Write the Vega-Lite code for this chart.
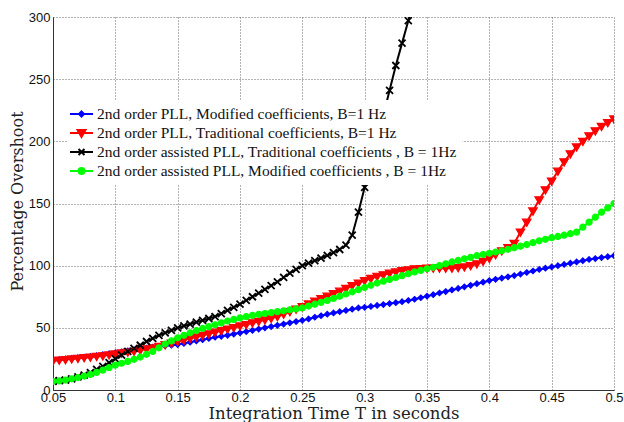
{
  "$schema": "https://vega.github.io/schema/vega-lite/v6.json",
  "width": 561,
  "height": 373,
  "autosize": "none",
  "padding": {"left": 53, "top": 17, "right": 10, "bottom": 32},
  "background": "white",
  "config": {
    "view": {"stroke": null},
    "axis": {
      "domainColor": "#333",
      "domainWidth": 1,
      "ticks": false,
      "labelFont": "Liberation Sans",
      "labelFontSize": 13,
      "labelColor": "#111",
      "labelFlush": false,
      "labelOverlap": false,
      "grid": true,
      "gridColor": "#666",
      "gridDash": [1, 2],
      "gridWidth": 1,
      "titleFont": "DejaVu Serif",
      "titleFontSize": 16,
      "titleFontWeight": "normal",
      "titleColor": "#222"
    }
  },
  "data": {
    "values": [
      {"x": 0.05, "a": 24, "b": 23.5, "c": 7, "d": 7},
      {"x": 0.055, "a": 24.5, "b": 24, "c": 7.5, "d": 7.3},
      {"x": 0.06, "a": 25, "b": 24.5, "c": 8, "d": 8},
      {"x": 0.065, "a": 25.5, "b": 25, "c": 9, "d": 9},
      {"x": 0.07, "a": 26, "b": 25.5, "c": 10.5, "d": 10},
      {"x": 0.075, "a": 26.5, "b": 26, "c": 12, "d": 11.2},
      {"x": 0.08, "a": 27, "b": 26.5, "c": 14, "d": 12.5},
      {"x": 0.085, "a": 27.7, "b": 27, "c": 16.5, "d": 14.2},
      {"x": 0.09, "a": 28.5, "b": 27.5, "c": 19, "d": 16},
      {"x": 0.095, "a": 29.2, "b": 28.2, "c": 22, "d": 18},
      {"x": 0.1, "a": 30, "b": 29, "c": 25, "d": 20},
      {"x": 0.105, "a": 30.7, "b": 29.8, "c": 28, "d": 21.5},
      {"x": 0.11, "a": 31.5, "b": 30.5, "c": 31, "d": 23},
      {"x": 0.115, "a": 32.2, "b": 31.2, "c": 33.5, "d": 24.7},
      {"x": 0.12, "a": 33, "b": 32, "c": 36, "d": 26.5},
      {"x": 0.125, "a": 33.7, "b": 33, "c": 39, "d": 28.7},
      {"x": 0.13, "a": 34.5, "b": 34, "c": 41.5, "d": 31},
      {"x": 0.135, "a": 35, "b": 35.2, "c": 44, "d": 34},
      {"x": 0.14, "a": 35.5, "b": 36.5, "c": 46, "d": 37},
      {"x": 0.145, "a": 36, "b": 37.7, "c": 48, "d": 39.5},
      {"x": 0.15, "a": 36.5, "b": 39, "c": 50, "d": 42},
      {"x": 0.155, "a": 37.5, "b": 40.2, "c": 51.5, "d": 44},
      {"x": 0.16, "a": 38.5, "b": 41.5, "c": 53, "d": 46},
      {"x": 0.165, "a": 39.5, "b": 42.7, "c": 54.5, "d": 47.8},
      {"x": 0.17, "a": 40.5, "b": 44, "c": 56, "d": 49.5},
      {"x": 0.175, "a": 41.5, "b": 45.2, "c": 57.5, "d": 51},
      {"x": 0.18, "a": 42.5, "b": 46.5, "c": 59, "d": 52.5},
      {"x": 0.185, "a": 43.2, "b": 47.7, "c": 61.5, "d": 54},
      {"x": 0.19, "a": 44, "b": 49, "c": 64, "d": 55.5},
      {"x": 0.195, "a": 45, "b": 50.2, "c": 66.5, "d": 56.8},
      {"x": 0.2, "a": 46, "b": 51.5, "c": 69, "d": 58},
      {"x": 0.205, "a": 47, "b": 52.7, "c": 72, "d": 59},
      {"x": 0.21, "a": 48, "b": 54, "c": 75, "d": 60},
      {"x": 0.215, "a": 49, "b": 55.2, "c": 78, "d": 60.8},
      {"x": 0.22, "a": 50, "b": 56.5, "c": 81, "d": 61.5},
      {"x": 0.225, "a": 51, "b": 57.7, "c": 84, "d": 62.2},
      {"x": 0.23, "a": 52, "b": 59, "c": 87, "d": 63},
      {"x": 0.235, "a": 53, "b": 61, "c": 90.5, "d": 63.7},
      {"x": 0.24, "a": 54, "b": 63, "c": 94, "d": 64.5},
      {"x": 0.245, "a": 55, "b": 65, "c": 97, "d": 65.2},
      {"x": 0.25, "a": 56, "b": 67, "c": 100, "d": 66},
      {"x": 0.255, "a": 57.2, "b": 69.2, "c": 102, "d": 67.5},
      {"x": 0.26, "a": 58.5, "b": 71.5, "c": 104, "d": 69},
      {"x": 0.265, "a": 59.7, "b": 73.5, "c": 106, "d": 70.5},
      {"x": 0.27, "a": 61, "b": 75.5, "c": 108.2, "d": 72},
      {"x": 0.275, "a": 62, "b": 77.5, "c": 110.5, "d": 73.7},
      {"x": 0.28, "a": 63, "b": 79.5, "c": 113, "d": 75.5},
      {"x": 0.285, "a": 64, "b": 81.7, "c": 116.5, "d": 77.2},
      {"x": 0.29, "a": 65, "b": 84, "c": 124.5, "d": 79},
      {"x": 0.295, "a": 66, "b": 86, "c": 143, "d": 80.7},
      {"x": 0.3, "a": 66.5, "b": 88, "c": 163, "d": 82.5},
      {"x": 0.305, "a": 67.2, "b": 89.7, "c": 182, "d": 84.2},
      {"x": 0.31, "a": 68, "b": 91.5, "c": 201, "d": 86},
      {"x": 0.315, "a": 68.7, "b": 92.7, "c": 221, "d": 87.5},
      {"x": 0.32, "a": 69.5, "b": 94, "c": 241, "d": 89},
      {"x": 0.325, "a": 70.2, "b": 95, "c": 261, "d": 90.5},
      {"x": 0.33, "a": 71, "b": 96, "c": 279, "d": 92},
      {"x": 0.335, "a": 72, "b": 96.7, "c": 297, "d": 93.5},
      {"x": 0.34, "a": 73, "b": 97.5, "c": 316, "d": 95},
      {"x": 0.345, "a": 74.2, "b": 97.7, "d": 96.2},
      {"x": 0.35, "a": 75.5, "b": 98, "d": 97.5},
      {"x": 0.355, "a": 76.7, "b": 98, "d": 98.7},
      {"x": 0.36, "a": 78, "b": 98, "d": 100},
      {"x": 0.365, "a": 79.2, "b": 98, "d": 101.5},
      {"x": 0.37, "a": 80.5, "b": 98, "d": 103},
      {"x": 0.375, "a": 81.7, "b": 98.5, "d": 104.2},
      {"x": 0.38, "a": 83, "b": 99, "d": 105.5},
      {"x": 0.385, "a": 84.2, "b": 100, "d": 106.7},
      {"x": 0.39, "a": 85.5, "b": 101.5, "d": 108},
      {"x": 0.395, "a": 86.7, "b": 103.5, "d": 109},
      {"x": 0.4, "a": 88, "b": 106, "d": 110},
      {"x": 0.405, "a": 89, "b": 109, "d": 111},
      {"x": 0.41, "a": 90, "b": 112, "d": 112},
      {"x": 0.415, "a": 91, "b": 114.5, "d": 113.2},
      {"x": 0.42, "a": 92, "b": 118, "d": 114.5},
      {"x": 0.425, "a": 93.2, "b": 127, "d": 115.7},
      {"x": 0.43, "a": 94.5, "b": 135, "d": 117},
      {"x": 0.435, "a": 95.7, "b": 144, "d": 118.5},
      {"x": 0.44, "a": 97, "b": 153, "d": 120},
      {"x": 0.445, "a": 98, "b": 161, "d": 121.2},
      {"x": 0.45, "a": 99, "b": 168, "d": 122.5},
      {"x": 0.455, "a": 100, "b": 176, "d": 123.5},
      {"x": 0.46, "a": 101, "b": 183.5, "d": 124.5},
      {"x": 0.465, "a": 102, "b": 190, "d": 125.7},
      {"x": 0.47, "a": 103, "b": 195.5, "d": 127},
      {"x": 0.475, "a": 104, "b": 200, "d": 131},
      {"x": 0.48, "a": 105, "b": 204.5, "d": 135},
      {"x": 0.485, "a": 105.7, "b": 208.5, "d": 139},
      {"x": 0.49, "a": 106.5, "b": 212, "d": 143},
      {"x": 0.495, "a": 107.2, "b": 215, "d": 146.5},
      {"x": 0.5, "a": 108, "b": 218, "d": 150}
    ]
  },
  "transform": [{"fold": ["a", "b", "c", "d"], "as": ["s", "y"]}],
  "encoding": {
    "x": {
      "field": "x",
      "type": "quantitative",
      "scale": {"domain": [0.05, 0.5], "nice": false, "zero": false},
      "axis": {
        "values": [0.05, 0.1, 0.15, 0.2, 0.25, 0.3, 0.35, 0.4, 0.45, 0.5],
        "format": "~g",
        "labelPadding": 1,
        "title": "Integration Time T in seconds",
        "titleFontSize": 16.5,
        "titleBaseline": "alphabetic",
        "titleY": 28
      }
    },
    "y": {
      "field": "y",
      "type": "quantitative",
      "scale": {"domain": [0, 300], "nice": false},
      "axis": {
        "values": [0, 50, 100, 150, 200, 250, 300],
        "labelPadding": 3,
        "title": "Percentage Overshoot",
        "titleBaseline": "alphabetic",
        "titleAngle": -90,
        "titleX": -31,
        "titleY": 184
      }
    },
    "color": {
      "field": "s",
      "type": "nominal",
      "scale": {"domain": ["a", "b", "c", "d"], "range": ["#0000ff", "#ff0000", "#000000", "#00ff00"]},
      "legend": {
        "orient": "none",
        "legendX": 14.5,
        "legendY": 83,
        "title": null,
        "fillColor": "white",
        "strokeColor": "white",
        "padding": 4,
        "symbolSize": 324,
        "labelOffset": 5.5,
        "rowPadding": 0,
        "labelFont": "Liberation Serif",
        "labelFontSize": 15.5,
        "labelColor": "#111",
        "labelLimit": 0,
        "labelExpr": "{'a':'2nd order PLL, Modified coefficients, B=1 Hz','b':'2nd order PLL, Traditional coefficients, B=1 Hz','c':'2nd order assisted PLL, Traditional coefficients , B = 1Hz','d':'2nd order assisted PLL, Modified coefficients , B = 1Hz'}[datum.label]",
        "encode": {
          "symbols": {
            "update": {
              "shape": {"signal": "['M-1.28,0H1.28M0,-0.28L0.28,0L0,0.28L-0.28,0Z','M-1.28,0H1.28M-0.44,-0.33L0.44,-0.33L0,0.45Z','M-1.28,0H1.28M-0.33,-0.33L0.33,0.33M-0.33,0.33L0.33,-0.33','M-1.28,0H1.28M-0.33,0A0.33,0.33,0,1,1,0.33,0A0.33,0.33,0,1,1,-0.33,0Z'][datum.index]"},
              "fill": {"signal": "['#0000ff','#ff0000','#000000','#00ff00'][datum.index]"},
              "stroke": {"signal": "['#0000ff','#ff0000','#000000','#00ff00'][datum.index]"},
              "strokeWidth": {"value": 2},
              "opacity": {"value": 1}
            }
          }
        }
      }
    }
  },
  "layer": [
    {"mark": {"type": "line", "strokeWidth": 2, "clip": true}},
    {
      "transform": [{"filter": {"field": "s", "equal": "a"}}],
      "mark": {"type": "point", "filled": true, "shape": "M0,-0.55L0.55,0L0,0.55L-0.55,0Z", "size": 100, "stroke": "#0000ff", "strokeWidth": 1.2, "opacity": 1, "clip": true}
    },
    {
      "transform": [{"filter": {"field": "s", "equal": "b"}}],
      "mark": {"type": "point", "filled": true, "shape": "M-0.85,-0.6L0.85,-0.6L0,0.85Z", "size": 100, "stroke": "#ff0000", "strokeWidth": 1.2, "opacity": 1, "clip": true}
    },
    {
      "transform": [{"filter": {"field": "s", "equal": "c"}}],
      "mark": {"type": "point", "filled": true, "shape": "M-0.7,-0.7L0.7,0.7M-0.7,0.7L0.7,-0.7", "size": 100, "stroke": "#000000", "strokeWidth": 1.8, "opacity": 1, "clip": true}
    },
    {
      "transform": [{"filter": {"field": "s", "equal": "d"}}],
      "mark": {"type": "point", "filled": true, "shape": "M-0.6,0A0.6,0.6,0,1,1,0.6,0A0.6,0.6,0,1,1,-0.6,0Z", "size": 100, "stroke": "#00ff00", "strokeWidth": 1.2, "opacity": 1, "clip": true}
    }
  ]
}
